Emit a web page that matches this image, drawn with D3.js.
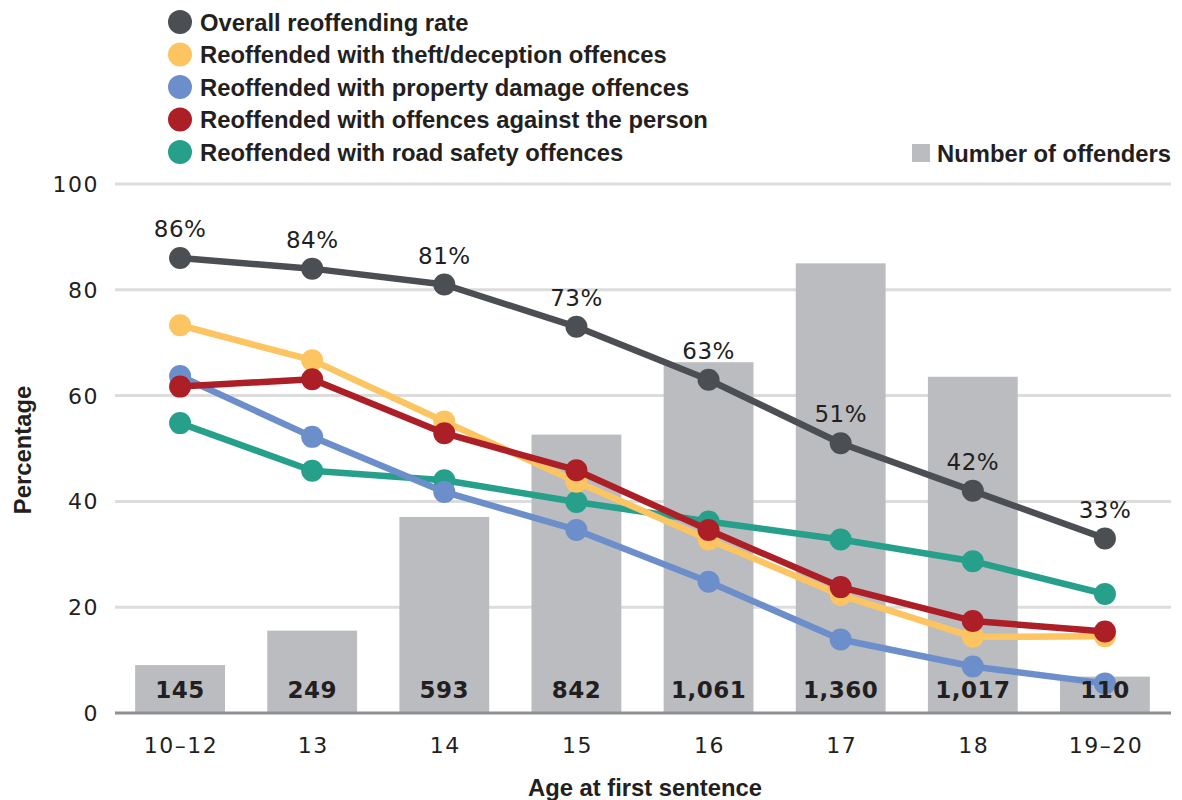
<!DOCTYPE html>
<html>
<head>
<meta charset="utf-8">
<script src="https://cdn.jsdelivr.net/npm/d3@7"></script>
<style>
  html, body { margin: 0; padding: 0; background: #fff; }
  svg { display: block; }
</style>
</head>
<body>
<svg id="chart" width="1182" height="800"></svg>
<script>
// Age groups at first sentence
const ages = ["10–12", "13", "14", "15", "16", "17", "18", "19–20"];

// Number of offenders in each age group (grey bars)
const offenders = [145, 249, 593, 842, 1061, 1360, 1017, 110];

// Reoffending rates (%)
const overallRate = [86, 84, 81, 73, 63, 51, 42, 33];
const theftRate = [73.3, 66.7, 55.1, 43.7, 32.8, 22.3, 14.4, 14.5];
const propertyRate = [63.7, 52.2, 41.8, 34.6, 24.8, 13.9, 8.8, 5.6];
const personRate = [61.7, 63.1, 52.9, 45.9, 34.6, 23.8, 17.4, 15.4];
const roadRate = [54.8, 45.8, 44.0, 39.9, 36.2, 32.8, 28.7, 22.5];

const yTicks = [0, 20, 40, 60, 80, 100];

const series = [
  { name: "Overall reoffending rate", color: "#4b4e53", values: overallRate },
  { name: "Reoffended with theft/deception offences", color: "#fdc462", values: theftRate },
  { name: "Reoffended with property damage offences", color: "#6c8fcb", values: propertyRate },
  { name: "Reoffended with offences against the person", color: "#ad1f27", values: personRate },
  { name: "Reoffended with road safety offences", color: "#26a08a", values: roadRate }
];
// drawing order of the lines (later ones sit on top)
const drawOrder = [4, 2, 1, 3, 0];

const svg = d3.select("#chart");
const plot = { left: 114, right: 1171, top: 184, bottom: 713 };

const x = d3.scaleBand().domain(ages).range([plot.left, plot.right])
  .paddingInner(0.32).paddingOuter(0.16);
const y = d3.scaleLinear().domain([0, 100]).range([plot.bottom, plot.top]);
const yBar = d3.scaleLinear().domain([0, 1600]).range([plot.bottom, plot.top]);

const textFont = "'Liberation Sans', Arial, sans-serif";
const numFont = "'DejaVu Sans', Verdana, sans-serif";
const ink = "#231f20";

// gridlines
svg.append("g")
  .selectAll("line")
  .data(yTicks.filter(d => d > 0))
  .join("line")
  .attr("x1", plot.left + 1).attr("x2", plot.right)
  .attr("y1", d => y(d)).attr("y2", d => y(d))
  .attr("stroke", "#dcdcdd").attr("stroke-width", 3);

// y tick labels
svg.append("g")
  .selectAll("text")
  .data(yTicks)
  .join("text")
  .attr("x", 99).attr("y", d => y(d))
  .attr("dy", "0.36em")
  .attr("text-anchor", "end")
  .attr("font-family", numFont).attr("font-size", 22)
  .attr("letter-spacing", 1.5)
  .attr("fill", ink)
  .text(d => d);

// bars: number of offenders
svg.append("g")
  .selectAll("rect")
  .data(offenders)
  .join("rect")
  .attr("x", (d, i) => x(ages[i]))
  .attr("width", x.bandwidth())
  .attr("y", d => yBar(d))
  .attr("height", d => plot.bottom - yBar(d))
  .attr("fill", "#bbbcc0");

// baseline
svg.append("line")
  .attr("x1", plot.left + 1).attr("x2", plot.right)
  .attr("y1", plot.bottom).attr("y2", plot.bottom)
  .attr("stroke", "#8f9094").attr("stroke-width", 3);

// x tick labels
svg.append("g")
  .selectAll("text")
  .data(ages)
  .join("text")
  .attr("x", d => x(d) + x.bandwidth() / 2 + 1)
  .attr("y", 745)
  .attr("dy", "0.36em")
  .attr("text-anchor", "middle")
  .attr("font-family", numFont).attr("font-size", 22)
  .attr("letter-spacing", 1.5)
  .attr("fill", ink)
  .text(d => d);

// lines and dots
const cx = i => x(ages[i]) + x.bandwidth() / 2;
const line = d3.line().x((d, i) => cx(i)).y(d => y(d));

const lineG = svg.append("g");
drawOrder.forEach(k => {
  const s = series[k];
  const g = lineG.append("g");
  g.append("path")
    .datum(s.values)
    .attr("d", line)
    .attr("fill", "none")
    .attr("stroke", s.color)
    .attr("stroke-width", 6.5)
    .attr("stroke-linejoin", "round");
  g.selectAll("circle")
    .data(s.values)
    .join("circle")
    .attr("cx", (d, i) => cx(i))
    .attr("cy", d => y(d))
    .attr("r", 11)
    .attr("fill", s.color);
});

// overall rate labels
svg.append("g")
  .selectAll("text")
  .data(overallRate)
  .join("text")
  .attr("x", (d, i) => cx(i))
  .attr("y", d => y(d) - 29)
  .attr("dy", "0.36em")
  .attr("text-anchor", "middle")
  .attr("font-family", numFont).attr("font-size", 23)
  .attr("letter-spacing", 0.5)
  .attr("fill", ink)
  .text(d => d3.format(".0f")(d) + "%");

// bar value labels
svg.append("g")
  .selectAll("text")
  .data(offenders)
  .join("text")
  .attr("x", (d, i) => cx(i))
  .attr("y", 690)
  .attr("dy", "0.36em")
  .attr("text-anchor", "middle")
  .attr("font-family", numFont).attr("font-size", 23)
  .attr("font-weight", "bold")
  .attr("letter-spacing", 0.5)
  .attr("fill", ink)
  .text(d => d3.format(",")(d));

// legend
const legendSize = 23.8;
const legend = svg.append("g");
series.forEach((s, i) => {
  const ly = 22 + i * 32.5;
  legend.append("circle").attr("cx", 180).attr("cy", ly).attr("r", 12).attr("fill", s.color);
  legend.append("text")
    .attr("x", 200).attr("y", ly)
    .attr("dy", "0.36em")
    .attr("font-family", textFont).attr("font-size", legendSize)
    .attr("font-weight", "bold")
    .attr("fill", ink)
    .text(s.name);
});
legend.append("rect").attr("x", 912).attr("y", 144).attr("width", 18).attr("height", 18).attr("fill", "#bbbcc0");
legend.append("text")
  .attr("x", 937).attr("y", 153)
  .attr("dy", "0.36em")
  .attr("font-family", textFont).attr("font-size", legendSize)
  .attr("font-weight", "bold")
  .attr("fill", ink)
  .text("Number of offenders");

// axis titles
svg.append("text")
  .attr("x", 645).attr("y", 787)
  .attr("dy", "0.36em")
  .attr("text-anchor", "middle")
  .attr("font-family", textFont).attr("font-size", legendSize)
  .attr("font-weight", "bold")
  .attr("fill", ink)
  .text("Age at first sentence");

svg.append("text")
  .attr("transform", "translate(22,450) rotate(-90)")
  .attr("dy", "0.36em")
  .attr("text-anchor", "middle")
  .attr("font-family", textFont).attr("font-size", legendSize)
  .attr("font-weight", "bold")
  .attr("fill", ink)
  .text("Percentage");
</script>
</body>
</html>
